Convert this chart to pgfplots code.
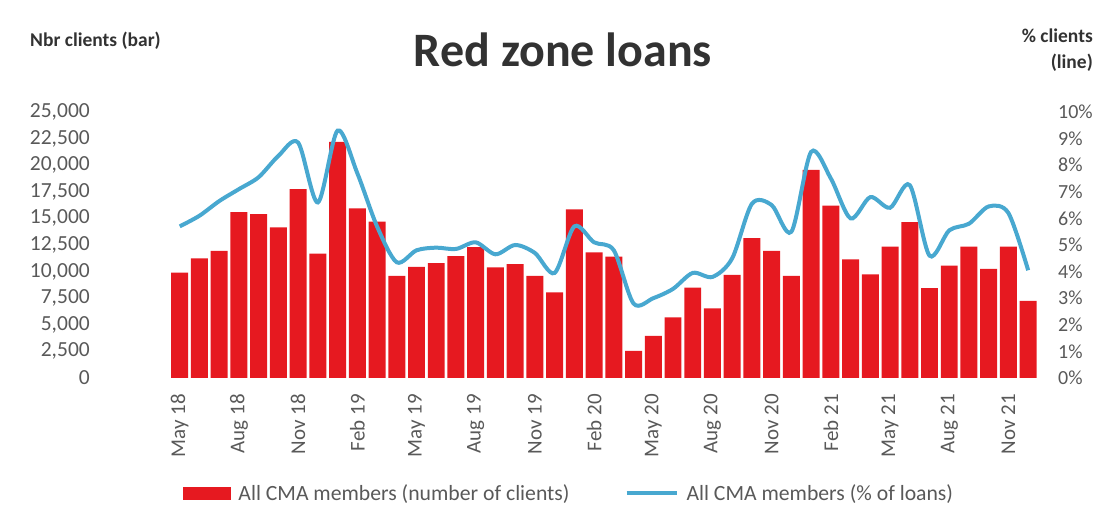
\documentclass[border=0pt]{standalone}
\usepackage{pgfplots}
\pgfplotsset{compat=1.18}
\usepackage{fontspec}
\setmainfont{Carlito}
\definecolor{cmared}{RGB}{230,25,32}
\definecolor{cmablue}{RGB}{72,168,208}
\definecolor{ticktext}{RGB}{89,89,89}
\definecolor{headtext}{RGB}{50,50,50}

% monthly values, May 2018 (x=0) to Dec 2021 (x=43)
\pgfplotstableread{
x clients pct
0 9900 5.7
1 11250 6.1
2 11950 6.65
3 15600 7.1
4 15400 7.55
5 14150 8.35
6 17750 8.85
7 11700 6.6
8 22200 9.3
9 15950 7.7
10 14700 5.7
11 9600 4.35
12 10450 4.8
13 10800 4.9
14 11450 4.85
15 12300 5.1
16 10400 4.65
17 10700 5.0
18 9600 4.7
19 8050 3.95
20 15850 5.7
21 11800 5.1
22 11400 4.8
23 2550 2.8
24 3950 3.0
25 5700 3.35
26 8500 3.95
27 6550 3.8
28 9700 4.5
29 13150 6.55
30 11950 6.5
31 9600 5.5
32 19550 8.5
33 16200 7.5
34 11150 6.0
35 9750 6.8
36 12350 6.4
37 14650 7.25
38 8450 4.6
39 10550 5.55
40 12350 5.8
41 10250 6.45
42 12350 6.2
43 7250 4.05
}\loans

\pgfplotsset{
  common/.style={
    scale only axis, width=880pt, height=266pt,
    at={(160pt,144pt)}, anchor=south west,
    xmin=-1, xmax=43.6,
    axis line style={draw=none},
    major tick length=0pt,
    /pgf/number format/assume math mode=true,
    ticklabel style={font=\fontsize{21}{24}\selectfont, text=ticktext},
  }
}

\begin{document}
\begin{tikzpicture}
\useasboundingbox (0pt,0pt) rectangle (1096pt,522pt);

\begin{axis}[
    common,
    ymin=0, ymax=25000,
    ytick={0,2500,...,25000},
    scaled y ticks=false,
    /pgf/number format/fixed,
    /pgf/number format/1000 sep={,},
    yticklabel style={anchor=east, inner sep=0pt, xshift=-70pt,
      font=\fontsize{21.5}{24}\selectfont},
    xtick={0,3,...,42},
    xticklabels={May 18,Aug 18,Nov 18,Feb 19,May 19,Aug 19,Nov 19,Feb 20,May 20,Aug 20,Nov 20,Feb 21,May 21,Aug 21,Nov 21},
    xticklabel style={rotate=90, anchor=east, inner sep=0pt},
    xticklabel shift=16pt,
    ybar, bar width=0.86,
  ]
\addplot[fill=cmared, draw=none] table[x=x, y=clients] {\loans};
\end{axis}

\begin{axis}[
    common,
    ymin=0, ymax=10,
    axis y line*=right,
    axis x line=none,
    ytick={0,1,...,10},
    yticklabel={\pgfmathprintnumber{\tick}\%},
    yticklabel style={anchor=west, inner sep=0pt, xshift=18pt,
      font=\fontsize{20}{24}\selectfont},
    legend columns=-1,
    legend style={
      at={(0.026,-0.432)}, anchor=west,
      draw=none, fill=none, inner sep=0pt,
      font=\fontsize{21.7}{24}\selectfont, text=ticktext,
      nodes={inner sep=0pt},
      /tikz/every odd column/.append style={column sep=8pt},
      /tikz/every even column/.append style={column sep=55pt},
    },
  ]
\addlegendimage{legend image code/.code={\fill[cmared] (0pt,-6pt) rectangle (47pt,6pt);}}
\addlegendentry{All CMA members (number of clients)}
\addplot[cmablue, line width=4pt, smooth, tension=0.5,
  legend image code/.code={\draw[cmablue, line width=4pt] (0pt,0pt) -- (50pt,0pt);}]
  table[x=x, y=pct] {\loans};
\addlegendentry{All CMA members (\% of loans)}
\end{axis}

\node[anchor=base, font=\fontsize{48}{56}\selectfont\bfseries, text=headtext] at (563pt,455pt) {Red zone loans};
\node[anchor=base west, inner sep=0pt, font=\fontsize{19.5}{22}\selectfont\bfseries, text=headtext] at (30pt,475pt) {Nbr clients (bar)};
\node[anchor=base east, inner sep=0pt, font=\fontsize{19.5}{22}\selectfont\bfseries, text=headtext] at (1093pt,479pt) {\% clients};
\node[anchor=base east, inner sep=0pt, font=\fontsize{19.5}{22}\selectfont\bfseries, text=headtext] at (1093pt,453pt) {(line)};
\end{tikzpicture}
\end{document}
